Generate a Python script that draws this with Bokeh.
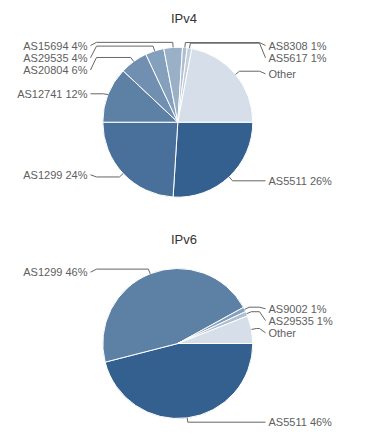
import math
from bokeh.plotting import figure
from bokeh.models import Range1d
from bokeh.core.properties import value
from bokeh.embed import file_html
from bokeh.resources import INLINE

# ---- data ----
ipv4_names = ["AS5511", "AS1299", "AS12741", "AS20804", "AS29535", "AS15694", "AS8308", "AS5617", "Other"]
ipv4_values = [26, 24, 12, 6, 4, 4, 1, 1, 22]
ipv6_names = ["AS5511", "AS1299", "AS9002", "AS29535", "Other"]
ipv6_values = [46, 46, 1, 1, 6]

# ---- layout (reference pixel coordinates) ----
ipv4_label_y = [180.3, 174.3, 93.3, 69.5, 57.3, 45.0, 45.0, 57.3, 73.3]
ipv6_label_y = [421.7, 271.7, 308.3, 320.0, 332.3]
W, H = 388, 445
BASE = (52, 96, 143)
FONT = "Liberation Sans"


def Y(ry):
    return H - ry


p = figure(width=W, height=H, output_backend="svg", toolbar_location=None,
           x_range=Range1d(0, W), y_range=Range1d(0, H),
           min_border=0, outline_line_color=None)
p.axis.visible = False
p.grid.visible = False
p.background_fill_color = "white"


def color(i, n):
    t = 0.8 * i / (n - 1)
    r, g, b = [int(round(c + (255 - c) * t)) for c in BASE]
    return "#%02x%02x%02x" % (r, g, b)


def draw_pie(names, values, label_y, cx, cy_ref, title, title_y):
    cy = Y(cy_ref)
    r = 75
    total = float(sum(values))
    n = len(values)
    cum = 0.0
    starts, ends, cols = [], [], []
    for i, v in enumerate(values):
        a0 = cum / total
        cum += v
        a1 = cum / total
        starts.append(-2 * math.pi * a0)
        ends.append(-2 * math.pi * a1)
        cols.append(color(i, n))
    p.wedge(x=[cx] * n, y=[cy] * n, radius=r, start_angle=starts, end_angle=ends,
            direction="clock", fill_color=cols, line_color="white", line_width=1)

    lx, ly, rx, ry_, ltxt, rtxt = [], [], [], [], [], []
    xs, ys = [], []
    for i, (nm, v) in enumerate(zip(names, values)):
        th = (starts[i] + ends[i]) / 2
        c, s = math.cos(th), math.sin(th)
        ex, ey = cx + r * c, cy + r * s
        bx, by = cx + (r + 5) * c, cy + (r + 5) * s
        lyd = Y(label_y[i])
        txt = nm if nm == "Other" else "%s %d%%" % (nm, round(100 * v / total))
        if c >= 0:
            tx = 268
            rx.append(tx); ry_.append(lyd); rtxt.append(txt)
            px = [tx - 3, tx - 9, bx, ex]
        else:
            tx = 87
            lx.append(tx); ly.append(lyd); ltxt.append(txt)
            px = [tx + 3, tx + 9, bx, ex]
        if abs(lyd - by) < 1.5:
            px = [px[0], bx, ex]
            py = [lyd, lyd, ey]
        else:
            py = [lyd, by, by, ey]
        xs.append(px); ys.append(py)
    p.multi_line(xs=xs, ys=ys, line_color="#666666", line_width=1)
    p.text(x=rx, y=ry_, text=rtxt, text_align="left", text_baseline="middle",
           text_font=value(FONT), text_font_size="11px", text_color="#606060")
    p.text(x=lx, y=ly, text=ltxt, text_align="right", text_baseline="middle",
           text_font=value(FONT), text_font_size="11px", text_color="#606060")
    p.text(x=[183.5], y=[Y(title_y)], text=[title], text_align="center",
           text_baseline="middle", text_font=value(FONT), text_font_size="13px",
           text_color="#333333")


draw_pie(ipv4_names, ipv4_values, ipv4_label_y, 177.3, 121.7, "IPv4", 18)
draw_pie(ipv6_names, ipv6_values, ipv6_label_y, 177.3, 343.0, "IPv6", 239)

open("out.html", "w").write(file_html(p, INLINE))
